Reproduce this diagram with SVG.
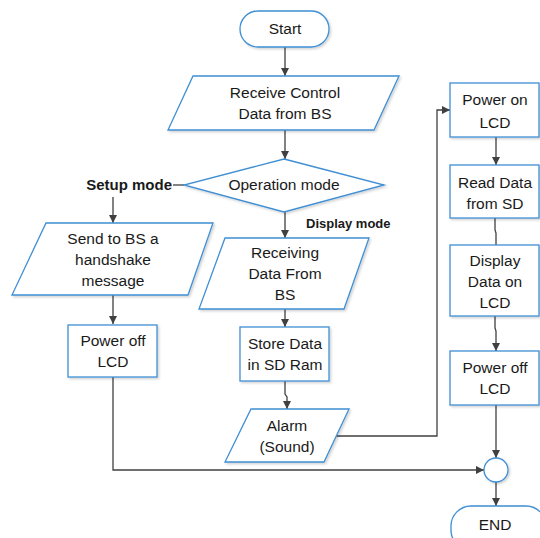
<svg xmlns="http://www.w3.org/2000/svg" width="540" height="538" viewBox="0 0 540 538">
<defs>
<marker id="ah" markerWidth="10" markerHeight="10" refX="9" refY="5" orient="auto" markerUnits="userSpaceOnUse">
<path d="M1,1 L9,5 L1,9 Z" fill="#404040"/>
</marker>
<filter id="sh" x="-10%" y="-10%" width="130%" height="130%">
<feDropShadow dx="1.5" dy="1.5" stdDeviation="0.8" flood-color="#000" flood-opacity="0.18"/>
</filter>
<style>
.n{fill:#fff;stroke:#3f8fd4;stroke-width:1.3;filter:url(#sh)}
.t{font-family:"Liberation Sans",Arial,sans-serif;font-size:15.5px;fill:#1a1a1a;text-anchor:middle}
.b{font-family:"Liberation Sans",Arial,sans-serif;font-weight:bold;fill:#1a1a1a}
.c{fill:none;stroke:#404040;stroke-width:1.3}
.ca{fill:none;stroke:#404040;stroke-width:1.3;marker-end:url(#ah)}
</style>
</defs>
<rect width="540" height="538" fill="#fff"/>
<g id="connectors">
<path class="ca" d="M285,47 V76"/>
<path class="ca" d="M285,130 V159"/>
<path class="c" d="M184,185 H173"/>
<path class="ca" d="M113,197 V223"/>
<path class="ca" d="M285,212 V238"/>
<path class="ca" d="M113,295 V324"/>
<path class="ca" d="M285,309 V327"/>
<path class="ca" d="M285,381 V394 L287,397 V409"/>
<path class="ca" d="M335,436 H437 V110 H450"/>
<path class="ca" d="M496,137 V165"/>
<path class="c" d="M495,218 V230 L496,233 V245"/>
<path class="ca" d="M495,316 V328 L496,331 V351"/>
<path class="ca" d="M496,405 V458"/>
<path class="ca" d="M113,377 V470 H484"/>
<path class="ca" d="M496,482 V506"/>
</g>
<g id="start">
<rect class="n" x="240" y="11" width="89" height="36" rx="18"/>
<text class="t" x="285" y="34">Start</text>
</g>
<g id="receive-control">
<polygon class="n" points="193,76 399,76 374,130 168,130"/>
<text class="t" x="285" y="98">Receive Control</text>
<text class="t" x="285" y="119">Data from BS</text>
</g>
<g id="operation-mode">
<polygon class="n" points="284,159 384,185 284,212 184,185"/>
<text class="t" x="284" y="190">Operation mode</text>
</g>
<g id="setup-mode-label">
<text class="b" x="172" y="190" font-size="15" text-anchor="end">Setup mode</text>
</g>
<g id="display-mode-label">
<text class="b" x="306" y="228" font-size="13">Display mode</text>
</g>
<g id="send-handshake">
<polygon class="n" points="46,223 213,223 188,295 12,295"/>
<text class="t" x="113" y="244">Send to BS a</text>
<text class="t" x="113" y="265">handshake</text>
<text class="t" x="113" y="286">message</text>
</g>
<g id="receiving-data">
<polygon class="n" points="225,238 369,238 344,309 199,309"/>
<text class="t" x="285" y="258">Receiving</text>
<text class="t" x="285" y="279">Data From</text>
<text class="t" x="285" y="300">BS</text>
</g>
<g id="power-off-left">
<rect class="n" x="68" y="325" width="89" height="52"/>
<text class="t" x="113" y="346">Power off</text>
<text class="t" x="113" y="367">LCD</text>
</g>
<g id="store-data">
<rect class="n" x="240" y="327" width="89" height="54"/>
<text class="t" x="285" y="349">Store Data</text>
<text class="t" x="285" y="370">in SD Ram</text>
</g>
<g id="alarm">
<polygon class="n" points="251,409 349,409 324,462 225,462"/>
<text class="t" x="287" y="431">Alarm</text>
<text class="t" x="287" y="452">(Sound)</text>
</g>
<g id="power-on">
<rect class="n" x="450" y="83" width="89" height="54"/>
<text class="t" x="495" y="105">Power on</text>
<text class="t" x="495" y="128">LCD</text>
</g>
<g id="read-data">
<rect class="n" x="450" y="165" width="89" height="53"/>
<text class="t" x="495" y="188">Read Data</text>
<text class="t" x="495" y="209">from SD</text>
</g>
<g id="display-data">
<rect class="n" x="450" y="245" width="89" height="71"/>
<text class="t" x="495" y="266">Display</text>
<text class="t" x="495" y="287">Data on</text>
<text class="t" x="495" y="308">LCD</text>
</g>
<g id="power-off-right">
<rect class="n" x="450" y="351" width="89" height="54"/>
<text class="t" x="495" y="373">Power off</text>
<text class="t" x="495" y="394">LCD</text>
</g>
<g id="junction">
<circle class="n" cx="496" cy="470" r="12"/>
</g>
<g id="end">
<rect class="n" x="451" y="506" width="95" height="44" rx="20"/>
<text class="t" x="495" y="530">END</text>
</g>
</svg>
